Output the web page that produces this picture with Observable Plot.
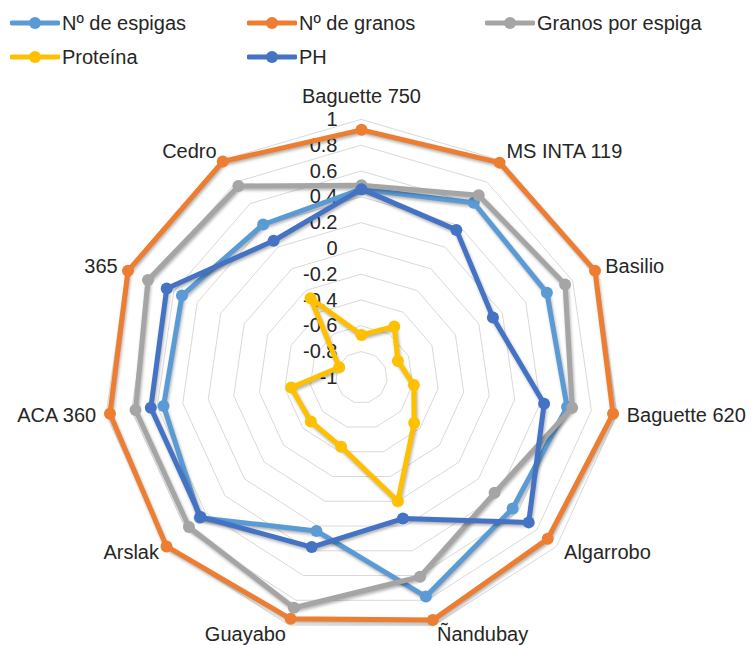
<!DOCTYPE html>
<html><head><meta charset="utf-8">
<script src="https://cdn.jsdelivr.net/npm/d3@7"></script>
<script src="https://cdn.jsdelivr.net/npm/@observablehq/plot@0.6"></script>
<style>
body{margin:0;background:#fff;font-family:"Liberation Sans",Arial,sans-serif;}
#legend{position:relative;width:751px;height:75px;}
.item{position:absolute;display:flex;align-items:center;font-size:20px;color:#262626;height:24px;}
.item svg{margin-right:2px;}
#chart svg{display:block;}
</style></head><body>
<div id="legend"></div>
<div id="chart"></div>
<script>
const categories = ["Baguette 750","MS INTA 119","Basilio","Baguette 620","Algarrobo","Ñandubay","Guayabo","Arslak","ACA 360","365","Cedro"];
const espigas      = [0.46, 0.61, 0.58, 0.61, 0.55, 0.77, 0.24, 0.66, 0.55, 0.53, 0.41];
const granos       = [0.92, 0.98, 0.99, 0.97, 0.91, 0.96, 0.95, 1.00, 0.97, 0.99, 0.99];
const granosEspiga = [0.49, 0.68, 0.735, 0.65, 0.365, 0.61, 0.86, 0.77, 0.77, 0.82, 0.765];
const proteina     = [-0.67, -0.53, -0.69, -0.59, -0.46, 0.0, -0.44, -0.48, -0.45, -0.81, -0.27];
const ph           = [0.46, 0.36, 0.12, 0.43, 0.715, 0.14, 0.37, 0.65, 0.65, 0.66, 0.26];
const seriesNames  = ["Nº de espigas","Nº de granos","Granos por espiga","Proteína","PH"];
const seriesColors = ["#5B9BD5","#ED7D31","#A5A5A5","#FFC000","#4472C4"];
const tickValues   = [-1,-0.8,-0.6,-0.4,-0.2,0,0.2,0.4,0.6,0.8,1];
const tickLabels   = ["-1","-0.8","-0.6","-0.4","-0.2","0","0.2","0.4","0.6","0.8","1"];

const seriesValues = [espigas, granos, granosEspiga, proteina, ph];
const n = categories.length;
const ang = i => 2 * Math.PI * i / n;
const rad = v => (v + 1) / 2;
const px = (v, i) => rad(v) * Math.sin(ang(i));
const py = (v, i) => rad(v) * Math.cos(ang(i));

// legend
const legend = document.getElementById("legend");
const legendPos = [[10, 11], [247, 11], [485, 11], [10, 45], [247, 45]];
seriesNames.forEach((name, k) => {
  const d = document.createElement("div");
  d.className = "item";
  d.style.left = legendPos[k][0] + "px";
  d.style.top = legendPos[k][1] + "px";
  d.innerHTML = `<svg width="50" height="14"><line x1="2" y1="7" x2="48" y2="7" stroke="${seriesColors[k]}" stroke-width="5" stroke-linecap="round"/><circle cx="25" cy="7" r="6" fill="${seriesColors[k]}"/></svg><span>${name}</span>`;
  legend.appendChild(d);
});

// grid rings
const rings = [];
tickValues.slice(1).forEach(v => {
  categories.forEach((c, i) => rings.push({ring: v, x: px(v, i), y: py(v, i)}));
});

const catRows = categories.map((c, i) => ({c, i, s: Math.sin(ang(i)), x: px(1.0775, i), y: py(1.0775, i)}));

const R = 258, cx = 361, cy = 302;
const txt = {fontSize: 20, fill: "#262626"};
const marks = [
  Plot.line(rings, {x: "x", y: "y", z: "ring", stroke: "#d9d9d9", strokeWidth: 1, curve: "linear-closed"}),
  Plot.text(tickValues, {x: () => 0, y: d => rad(d), text: (d, i) => tickLabels[i], dx: -24, textAnchor: "end", ...txt}),
  Plot.text(catRows.filter(d => d.s > 0.05), {x: "x", y: "y", text: "c", textAnchor: "start", ...txt}),
  Plot.text(catRows.filter(d => d.s < -0.05), {x: "x", y: "y", text: "c", textAnchor: "end", ...txt}),
  Plot.text(catRows.filter(d => Math.abs(d.s) <= 0.05), {x: "x", y: "y", text: "c", textAnchor: "middle", dy: -13, ...txt})
];
seriesValues.forEach((vals, k) => {
  const pts = vals.map((v, i) => ({x: px(v, i), y: py(v, i)}));
  marks.push(Plot.line(pts, {x: "x", y: "y", stroke: seriesColors[k], strokeWidth: 5, curve: "linear-closed", strokeLinejoin: "round", imageFilter: "drop-shadow(1.5px 2px 1.5px rgba(0,0,0,0.3))"}));
  marks.push(Plot.dot(pts, {x: "x", y: "y", r: 6, fill: seriesColors[k], stroke: "none"}));
});

const chart = Plot.plot({
  width: 751, height: 570,
  style: {fontFamily: "'Liberation Sans', Arial, sans-serif", background: "#fff"},
  x: {domain: [-1, 1], range: [cx - R, cx + R], axis: null},
  y: {domain: [-1, 1], range: [cy + R, cy - R], axis: null},
  marks
});
document.getElementById("chart").appendChild(chart);
</script>
</body></html>
